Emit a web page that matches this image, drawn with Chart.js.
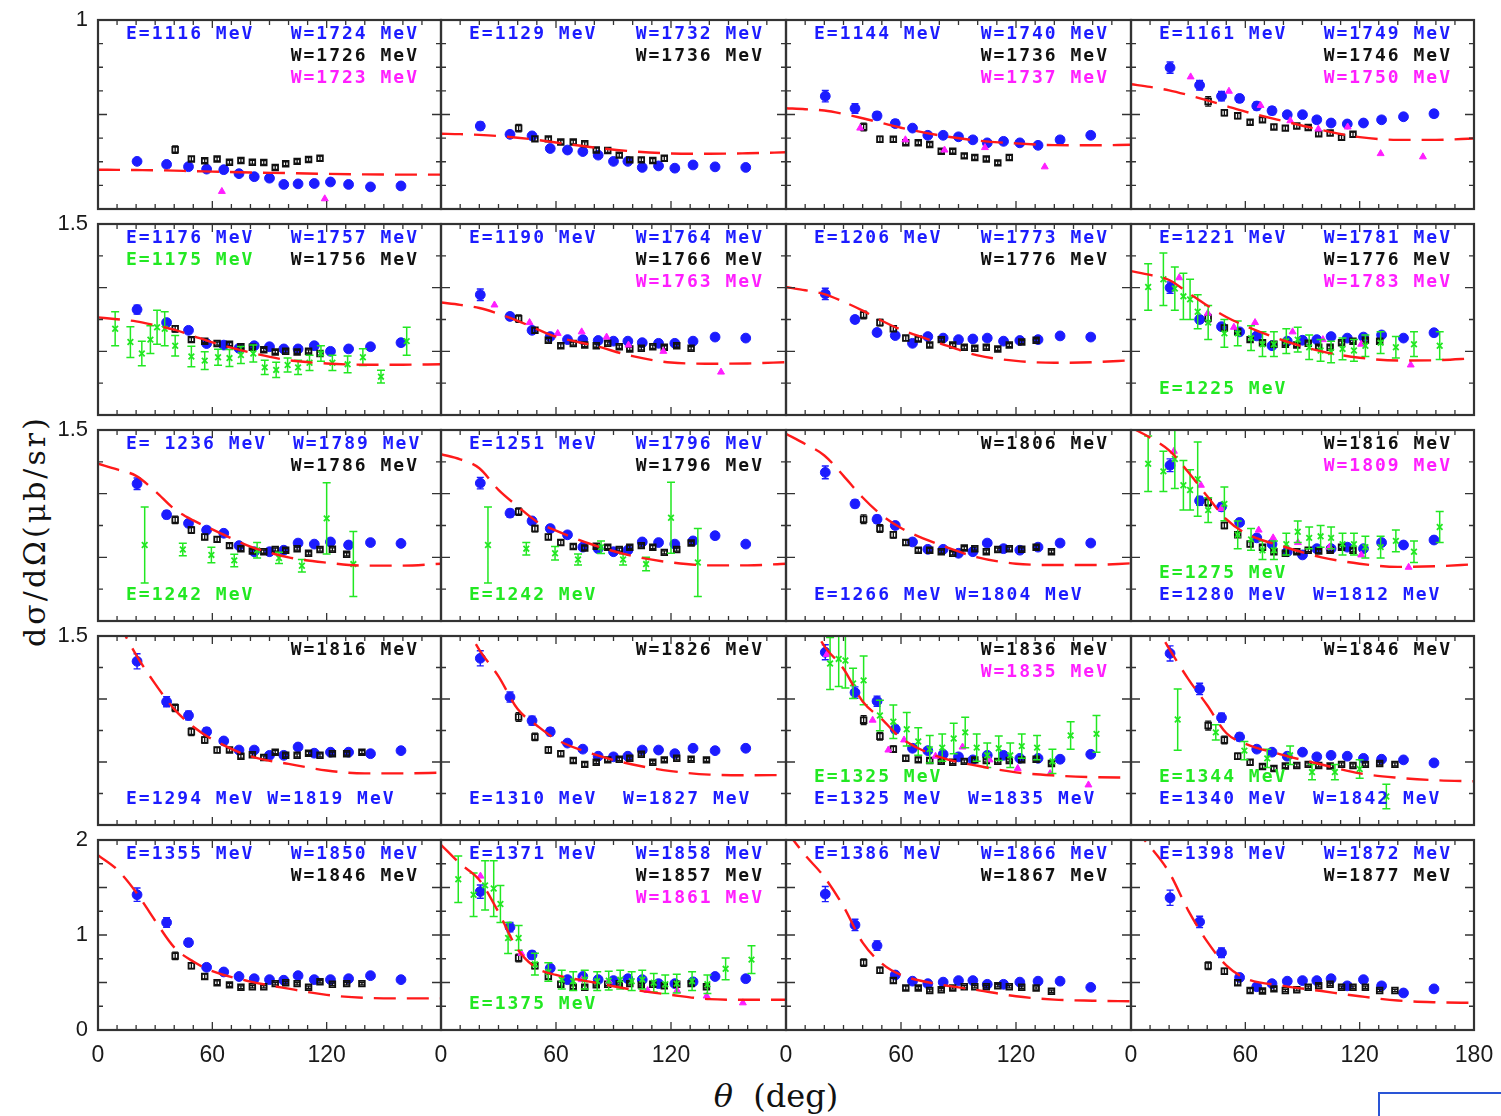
<!DOCTYPE html>
<html>
<head>
<meta charset="utf-8">
<script src="https://cdn.jsdelivr.net/npm/chart.js@4.4.1/dist/chart.umd.min.js"></script>
<style>
  body { margin: 0; background: #fff; width: 1501px; height: 1116px; position: relative; overflow: hidden; }
  canvas { position: absolute; }
  .ytitle { position: absolute; left: 34px; top: 531px; transform: translate(-50%, -50%) rotate(-90deg);
            font: 30px "DejaVu Serif"; letter-spacing: 3px; white-space: nowrap; color: #111; }
  .xtitle { position: absolute; left: 776px; top: 1096px; transform: translate(-50%, -50%);
            font: 32px "DejaVu Serif"; white-space: nowrap; color: #111; }
  .corner { position: absolute; left: 1378px; top: 1092px; width: 140px; height: 40px;
            border-top: 2px solid #2a55d6; border-left: 2px solid #2a55d6; background: #fff; }
</style>
</head>
<body>
<div class="ytitle">dσ/dΩ(μb/sr)</div>
<div class="xtitle"><i>θ</i>&nbsp;&nbsp;(deg)</div>
<div class="corner"></div>
<script>
// angle bins (deg)
const blueTheta = [20.5, 36, 47.5, 57, 66, 74, 82, 90, 97.5, 105, 113.5, 122, 131.5, 143, 159];
const blackTheta = [40.5, 49, 56, 62.5, 69, 75, 81, 87, 93, 98.5, 104.5, 110.5, 116.5, 123, 130.5, 138.5];
const greenThetaA = [9, 17, 23, 27.5, 31, 35, 40.5, 49, 56, 63, 69, 75, 81.5, 87.5, 93.5, 99.5, 105, 111, 117, 123, 131, 139, 148.5, 162];
const greenThetaB = [24.5, 44.5, 59.5, 71.5, 83.5, 95, 107, 120, 134];
const theoryTheta = [0, 10, 20, 30, 40, 50, 60, 80, 100, 120, 140, 160, 180];

// y range per row
const yMax = [1, 1.5, 1.5, 1.5, 2];
const yStep = [0.125, 0.25, 0.25, 0.25, 0.25];
const yLabels = [[1], [1.5], [1.5], [1.5], [0, 1, 2]];
const xLabels = [0, 60, 120];

// blue filled circles
const blue = [
  [.252,.236,.224,.211,.208,.187,.171,.163,.130,.133,.135,.143,.130,.117,.122],
  [.439,.395,.387,.320,.312,.304,.285,.252,.252,.220,.228,.216,.233,.223,.220],
  [.597,.532,.493,.452,.428,.390,.390,.382,.366,.350,.358,.350,.337,.366,.390],
  [.748,.655,.597,.585,.545,.520,.499,.499,.472,.455,.450,.455,.472,.488,.504],
  [.828,.726,.665,.561,.549,.524,.544,.536,.519,.519,.544,.500,.519,.536,.568],
  [.944,.774,.665,.616,.592,.592,.585,.580,.580,.568,.563,.563,.580,.612,.604],
  [.951,.750,.648,.624,.563,.616,.604,.592,.597,.604,.580,.585,.592,.621,.612],
  [1.0,.750,.694,.653,.621,.544,.580,.587,.592,.616,.604,.612,.629,.604,.646],
  [1.078,.835,.767,.714,.689,.592,.544,.544,.556,.612,.604,.621,.597,.616,.609],
  [1.083,.847,.786,.726,.677,.580,.568,.544,.556,.621,.616,.604,.629,.670,.604],
  [1.167,.920,.799,.750,.621,.563,.563,.532,.544,.612,.568,.556,.580,.612,.612],
  [1.223,.944,.896,.774,.653,.604,.544,.519,.568,.568,.580,.568,.616,.597,.636],
  [1.299,.978,.869,.740,.667,.595,.595,.553,.553,.619,.570,.578,.578,.566,.590],
  [1.323,1.015,.828,.740,.650,.602,.546,.541,.546,.595,.595,.566,.609,.590,.609],
  [1.371,1.051,.983,.760,.609,.590,.561,.541,.517,.553,.553,.529,.529,.522,.561],
  [1.362,1.080,.852,.699,.602,.578,.546,.578,.541,.553,.546,.529,.522,.517,.493],
  [1.424,1.132,.920,.660,.611,.563,.540,.530,.524,.572,.530,.530,.540,.572,.530],
  [1.457,1.083,.790,.650,.530,.563,.530,.520,.540,.530,.488,.488,.507,.563,.540],
  [1.431,1.106,.888,.579,.514,.488,.504,.520,.520,.481,.481,.504,.514,.514,.449],
  [1.392,1.138,.813,.553,.455,.488,.514,.520,.520,.540,.465,.530,.465,.390,.433]
];
const blueErr = [
  [.01,.01,.01,.01,.01,.01,.01,.01,.01,.01,.01,.01,.01,.01,.01],
  [.02,.015,.012,.012,.01,.01,.01,.01,.01,.01,.01,.01,.01,.01,.01],
  [.03,.025,.02,.02,.015,.015,.012,.012,.012,.012,.012,.012,.012,.015,.015],
  [.03,.025,.025,.02,.02,.02,.015,.015,.015,.015,.015,.015,.015,.015,.018],
  [.035,.02,.02,.015,.015,.015,.015,.015,.015,.015,.015,.015,.015,.015,.02],
  [.045,.025,.02,.02,.015,.015,.015,.015,.015,.015,.015,.015,.015,.015,.015],
  [.045,.025,.025,.02,.015,.015,.015,.015,.015,.015,.015,.015,.015,.015,.015],
  [.045,.03,.025,.02,.02,.015,.015,.015,.015,.015,.015,.015,.015,.015,.015],
  [.045,.03,.025,.025,.02,.015,.015,.015,.015,.015,.015,.015,.015,.015,.015],
  [.045,.03,.025,.025,.02,.015,.015,.015,.015,.015,.015,.015,.015,.015,.015],
  [.05,.03,.03,.025,.02,.015,.015,.015,.015,.015,.015,.015,.015,.015,.015],
  [.05,.035,.03,.025,.02,.02,.015,.015,.015,.015,.015,.015,.015,.015,.015],
  [.06,.04,.035,.03,.02,.015,.015,.015,.015,.015,.015,.015,.015,.015,.015],
  [.06,.04,.035,.03,.02,.02,.015,.015,.015,.015,.015,.015,.015,.015,.015],
  [.06,.045,.04,.03,.025,.02,.02,.015,.015,.015,.015,.015,.015,.015,.015],
  [.06,.045,.035,.03,.025,.02,.02,.02,.015,.015,.015,.015,.015,.015,.015],
  [.07,.05,.04,.03,.025,.02,.02,.02,.02,.02,.02,.02,.02,.02,.02],
  [.07,.05,.04,.03,.025,.02,.02,.02,.02,.02,.02,.02,.02,.02,.02],
  [.08,.06,.05,.035,.025,.02,.02,.02,.02,.02,.02,.02,.02,.02,.02],
  [.08,.06,.05,.035,.025,.02,.02,.02,.02,.02,.02,.02,.02,.02,.02]
];

// black open squares
const black = [
  [.314,.265,.255,.265,.247,.257,.247,.246,.220,.239,.252,.262,.268],
  [.428,.371,.371,.354,.354,.345,.312,.309,.285,.260,.260,.257,.268],
  [.434,.369,.369,.350,.350,.341,.306,.306,.281,.272,.265,.244,.272],
  [.569,.509,.493,.459,.472,.434,.428,.439,.431,.398,.402,.379,.395],
  [.677,.592,.580,.561,.556,.536,.532,.512,.495,.500,.495,.500,.483],
  [.757,.665,.587,.544,.561,.549,.544,.563,.536,.519,.524,.536,.532,.544,.524],
  [.786,.726,.677,.604,.597,.549,.592,.549,.532,.524,.532,.519,.549,.573,.587],
  [.762,.684,.653,.592,.568,.556,.556,.549,.563,.532,.532,.568,.580,.587,.580],
  [.794,.714,.660,.641,.592,.568,.549,.544,.561,.556,.568,.532,.561,.563,.524],
  [.859,.726,.660,.616,.585,.573,.587,.580,.561,.580,.592,.580,.539,.561,.612],
  [.799,.726,.677,.616,.556,.556,.544,.532,.573,.568,.544,.561,.568,.563,.580,.544],
  [.932,.750,.677,.604,.580,.544,.532,.544,.556,.549,.556,.580,.556],
  [.930,.740,.675,.595,.595,.546,.558,.536,.578,.553,.553,.570,.553,.566,.566,.578],
  [.857,.699,.595,.566,.512,.481,.498,.517,.522,.529,.561,.498,.517,.529,.522,.517],
  [.832,.704,.602,.529,.517,.512,.505,.498,.505,.517,.512,.505,.512,.517,.522,.488],
  [.789,.675,.546,.498,.464,.449,.468,.473,.481,.473,.468,.481,.473,.481,.488,.481],
  [.780,.676,.563,.498,.475,.449,.455,.455,.488,.498,.488,.449,.507,.481,.488,.488],
  [.758,.676,.563,.481,.449,.449,.475,.481,.488,.488,.475,.481,.465,.481,.488,.455],
  [.709,.628,.520,.442,.442,.416,.423,.442,.455,.455,.455,.465,.455,.449,.442,.407],
  [.676,.618,.498,.416,.410,.433,.416,.423,.449,.465,.481,.449,.449,.449,.416,.416]
];
const blackErr = [
  [.02,.012,.01,.01,.01,.01,.01,.01,.01,.01,.01,.01,.012],
  [.02,.012,.01,.01,.01,.01,.01,.01,.01,.01,.01,.01,.012],
  [.02,.015,.012,.01,.01,.01,.01,.01,.01,.01,.01,.01,.012],
  [.025,.015,.015,.012,.012,.012,.012,.012,.012,.012,.012,.012,.012],
  [.025,.015,.012,.012,.012,.012,.012,.012,.012,.012,.012,.012,.012],
  [.03,.02,.015,.015,.012,.012,.012,.012,.012,.012,.012,.012,.012,.012,.012],
  [.03,.025,.02,.02,.015,.015,.012,.012,.012,.012,.012,.012,.012,.012,.012],
  [.03,.02,.02,.015,.015,.012,.012,.012,.012,.012,.012,.012,.012,.012,.012],
  [.03,.025,.02,.02,.015,.015,.012,.012,.012,.012,.012,.012,.012,.012,.012],
  [.03,.025,.02,.02,.015,.015,.012,.012,.012,.012,.012,.012,.012,.012,.012],
  [.035,.03,.025,.02,.015,.015,.012,.012,.012,.012,.012,.012,.012,.012,.012,.012],
  [.03,.025,.02,.02,.015,.015,.012,.012,.012,.012,.012,.012,.012],
  [.03,.03,.025,.02,.015,.015,.012,.012,.012,.012,.012,.012,.012,.012,.012,.012],
  [.035,.03,.025,.02,.015,.015,.012,.012,.012,.012,.012,.012,.012,.012,.012,.012],
  [.035,.03,.025,.02,.015,.015,.012,.012,.012,.012,.012,.012,.012,.012,.012,.012],
  [.035,.03,.025,.02,.015,.015,.012,.012,.012,.012,.012,.012,.012,.012,.012,.012],
  [.04,.03,.025,.02,.015,.015,.012,.012,.012,.012,.012,.012,.012,.012,.012,.012],
  [.04,.03,.025,.02,.015,.015,.012,.012,.012,.012,.012,.012,.012,.012,.012,.012],
  [.04,.03,.025,.02,.015,.015,.012,.012,.012,.012,.012,.012,.012,.012,.012,.012],
  [.04,.03,.025,.02,.015,.015,.012,.012,.012,.012,.012,.012,.012,.012,.012,.012]
];

// magenta triangles (only some panels)
const magentaTheta = [
  [65, 119], null, [38.7, 62.3, 82.7, 103.8, 135], [31.3, 51.4, 68, 83.6, 98.3, 113.7, 131, 153.2],
  null, [27.9, 46.2, 60.9, 73.4, 86.4, 97.8, 116, 146.1], null, [25.3, 40.3, 54, 65.1, 84.8, 100.7, 120.8, 146.8],
  null, null, null, [22.5, 36.7, 47.4, 67, 74.6, 87.6, 104.2, 120.8, 145.7],
  null, null, [21.3, 45.2, 53.4, 61.6, 78, 92.1, 106.2, 120.9, 137.8, 157.8], null,
  null, [20.6, 41.9, 73.4, 87.6, 107.8, 123.2, 138.6, 157.5], null, null
];
const magenta = [
  [.093, .054], null, [.428, .366, .312, .325, .223], [.699, .623, .548, .467, .423, .434, .293, .276],
  null, [.864, .726, .641, .653, .612, .549, .500, .337], null, [1.078, .799, .689, .726, .653, .592, .556, .393],
  null, null, null, [1.333, 1.066, .883, .714, .653, .616, .580, .519, .422],
  null, null, [1.354, .832, .595, .675, .546, .619, .517, .449, .408, .318], null,
  null, [1.620, .807, .530, .514, .416, .416, .358, .286], null, null
];

// green crosses with error bars (24 values -> greenThetaA, 9 values -> greenThetaB)
const green = [
  null, null, null, null,
  [.677,.573,.483,.592,.689,.677,.544,.459,.427,.454,.447,.471,.483,.374,.354,.393,.374,.410,.483,.410,.398,.454,.301,.580],
  null, null,
  [1.005,1.066,.993,.932,.908,.811,.726,.641,.641,.604,.556,.556,.580,.592,.532,.507,.495,.519,.507,.544,.568,.532,.556,.544],
  [.597,.561,.519,.476,.556,.495,.434,.806,.447],
  [.597,.568,.532,.483,.580,.483,.447,.811,.459],
  null,
  [1.235,1.175,1.272,1.066,1.029,1.114,.871,.920,.677,.641,.556,.556,.604,.701,.653,.665,.653,.604,.604,.580,.580,.629,.544,.738],
  null, null,
  [null,null,1.282,1.318,1.306,1.124,1.148,.869,.820,.760,.663,.602,.614,.687,.735,.614,.553,.609,.553,.626,.614,.505,.711,.723],
  [.837,.735,.590,.529,.553,.420,.420,.444,.226],
  null,
  [1.587,1.424,1.522,1.489,1.327,.969,.969,.693,.611,.530,.514,.530,.514,.520,.530,.514,.530,.498,.481,.488,.514,.481,.644,.741],
  null, null
];
const greenErr = [
  null, null, null, null,
  [.133,.121,.097,.109,.133,.133,.08,.08,.07,.063,.067,.067,.067,.055,.06,.055,.055,.06,.06,.06,.066,.066,.05,.11],
  null, null,
  [.182,.206,.17,.182,.158,.133,.133,.109,.097,.097,.097,.097,.097,.097,.097,.085,.085,.085,.085,.085,.085,.085,.097,.109],
  [.299,.049,.061,.049,.061,.044,.049,.279,.255],
  [.299,.049,.053,.044,.049,.044,.053,.279,.267],
  null,
  [.218,.158,.231,.194,.158,.291,.097,.133,.109,.085,.073,.073,.085,.085,.085,.085,.085,.085,.085,.085,.085,.085,.085,.121],
  null, null,
  [null,null,.206,.218,.218,.121,.194,.121,.133,.133,.109,.109,.109,.121,.121,.109,.097,.097,.097,.097,.097,.097,.109,.146],
  [.243,.061,.073,.073,.073,.061,.061,.073,.097],
  null,
  [.244,.228,.26,.293,.195,.163,.13,.114,.098,.098,.098,.098,.098,.098,.098,.098,.098,.098,.098,.098,.098,.098,.114,.146],
  null, null
];

// red dashed model curve, at theoryTheta
const theory = [
  [.208,.207,.206,.205,.203,.200,.198,.193,.190,.186,.183,.182,.182],
  [.398,.396,.392,.386,.377,.366,.352,.325,.305,.294,.292,.295,.300],
  [.533,.528,.521,.503,.480,.455,.430,.390,.362,.347,.338,.337,.340],
  [.660,.646,.628,.603,.575,.545,.515,.465,.418,.380,.366,.366,.373],
  [.767,.752,.735,.705,.670,.620,.570,.490,.430,.405,.395,.395,.398],
  [.883,.865,.840,.795,.740,.675,.615,.545,.462,.412,.403,.405,.415],
  [1.005,.980,.950,.890,.820,.740,.670,.565,.468,.425,.410,.415,.430],
  [1.13,1.10,1.06,.960,.860,.770,.700,.585,.500,.450,.428,.430,.445],
  [1.235,1.19,1.14,1.02,.880,.790,.720,.585,.500,.458,.435,.435,.450],
  [1.31,1.27,1.20,1.03,.900,.780,.710,.595,.510,.460,.437,.437,.450],
  [1.47,1.39,1.30,1.14,.970,.830,.730,.600,.500,.450,.440,.440,.453],
  [1.52,1.44,1.34,1.17,.980,.800,.690,.585,.500,.450,.425,.430,.445],
  [1.85,1.62,1.35,1.12,.920,.780,.680,.545,.485,.433,.410,.410,.415],
  [1.88,1.66,1.39,1.18,.920,.790,.680,.560,.480,.428,.400,.395,.396],
  [1.90,1.68,1.42,1.24,.980,.840,.690,.540,.470,.418,.393,.380,.376],
  [1.90,1.66,1.40,1.16,.950,.730,.645,.555,.480,.410,.375,.355,.347],
  [1.84,1.69,1.45,1.15,.870,.720,.620,.510,.435,.370,.338,.333,.333],
  [1.95,1.75,1.58,1.24,.850,.650,.580,.500,.425,.370,.325,.318,.318],
  [2.10,1.84,1.61,1.30,.920,.700,.580,.480,.420,.355,.320,.308,.302],
  [2.15,1.93,1.66,1.26,.930,.680,.545,.465,.410,.355,.310,.292,.286]
];

// panel captions: [text, colour, place]
const captions = [
  [['E=1116 MeV','b','L0'],['W=1724 MeV','b','R0'],['W=1726 MeV','k','R1'],['W=1723 MeV','m','R2']],
  [['E=1129 MeV','b','L0'],['W=1732 MeV','b','R0'],['W=1736 MeV','k','R1']],
  [['E=1144 MeV','b','L0'],['W=1740 MeV','b','R0'],['W=1736 MeV','k','R1'],['W=1737 MeV','m','R2']],
  [['E=1161 MeV','b','L0'],['W=1749 MeV','b','R0'],['W=1746 MeV','k','R1'],['W=1750 MeV','m','R2']],
  [['E=1176 MeV','b','L0'],['W=1757 MeV','b','R0'],['E=1175 MeV','g','L1'],['W=1756 MeV','k','R1']],
  [['E=1190 MeV','b','L0'],['W=1764 MeV','b','R0'],['W=1766 MeV','k','R1'],['W=1763 MeV','m','R2']],
  [['E=1206 MeV','b','L0'],['W=1773 MeV','b','R0'],['W=1776 MeV','k','R1']],
  [['E=1221 MeV','b','L0'],['W=1781 MeV','b','R0'],['W=1776 MeV','k','R1'],['W=1783 MeV','m','R2'],['E=1225 MeV','g','B1']],
  [['E= 1236 MeV  W=1789 MeV','b','L0'],['W=1786 MeV','k','R1'],['E=1242 MeV','g','B1']],
  [['E=1251 MeV','b','L0'],['W=1796 MeV','b','R0'],['W=1796 MeV','k','R1'],['E=1242 MeV','g','B1']],
  [['W=1806 MeV','k','R0'],['E=1266 MeV W=1804 MeV','b','B1']],
  [['W=1816 MeV','k','R0'],['W=1809 MeV','m','R1'],['E=1275 MeV','g','B2'],['E=1280 MeV  W=1812 MeV','b','B1']],
  [['W=1816 MeV','k','R0'],['E=1294 MeV W=1819 MeV','b','B1']],
  [['W=1826 MeV','k','R0'],['E=1310 MeV  W=1827 MeV','b','B1']],
  [['W=1836 MeV','k','R0'],['W=1835 MeV','m','R1'],['E=1325 MeV','g','B2'],['E=1325 MeV  W=1835 MeV','b','B1']],
  [['W=1846 MeV','k','R0'],['E=1344 MeV','g','B2'],['E=1340 MeV  W=1842 MeV','b','B1']],
  [['E=1355 MeV','b','L0'],['W=1850 MeV','b','R0'],['W=1846 MeV','k','R1']],
  [['E=1371 MeV','b','L0'],['W=1858 MeV','b','R0'],['W=1857 MeV','k','R1'],['W=1861 MeV','m','R2'],['E=1375 MeV','g','B1']],
  [['E=1386 MeV','b','L0'],['W=1866 MeV','b','R0'],['W=1867 MeV','k','R1']],
  [['E=1398 MeV','b','L0'],['W=1872 MeV','b','R0'],['W=1877 MeV','k','R1']]
];

const colours = { b: '#1c1cff', k: '#111111', m: '#ff1eff', g: '#22e822', r: '#ff1a1a' };
const colX = [98, 441, 786, 1131, 1474];
const rowY = [20, 224, 430, 636, 840, 1045];

const near = (a, b) => Math.abs(a - b) < 1e-6;

// vertical error bars for datasets whose points carry e
const errorBars = {
  id: 'errorBars',
  afterDatasetDraw(chart, args) {
    const ds = chart.data.datasets[args.index];
    if (!ds.bars) return;
    const { ctx, chartArea: a, scales: { x, y } } = chart;
    ctx.save();
    ctx.beginPath();
    ctx.rect(a.left, a.top, a.width, a.height);
    ctx.clip();
    ctx.strokeStyle = ds.borderColor;
    ctx.lineWidth = ds.bars.width;
    const cap = ds.bars.cap;
    ctx.beginPath();
    ds.data.forEach(d => {
      if (!d.e) return;
      const px = x.getPixelForValue(d.x);
      const lo = y.getPixelForValue(d.y - d.e), hi = y.getPixelForValue(d.y + d.e);
      ctx.moveTo(px, lo); ctx.lineTo(px, hi);
      ctx.moveTo(px - cap, lo); ctx.lineTo(px + cap, lo);
      ctx.moveTo(px - cap, hi); ctx.lineTo(px + cap, hi);
    });
    ctx.stroke();
    ctx.restore();
  }
};

// box with inward ticks on all four sides
const frame = {
  id: 'frame',
  afterDraw(chart) {
    const { ctx, chartArea: a, scales: { x, y } } = chart;
    ctx.save();
    ctx.strokeStyle = '#333';
    ctx.lineWidth = 1.3;
    ctx.beginPath();
    x.ticks.forEach(t => {
      const px = x.getPixelForValue(t.value), len = t.value % 60 === 0 ? 8 : 5;
      ctx.moveTo(px, a.bottom); ctx.lineTo(px, a.bottom - len);
      ctx.moveTo(px, a.top); ctx.lineTo(px, a.top + len);
    });
    y.ticks.forEach(t => {
      const py = y.getPixelForValue(t.value), len = near(t.value * 2, Math.round(t.value * 2)) ? 9 : 5;
      ctx.moveTo(a.left, py); ctx.lineTo(a.left + len, py);
      ctx.moveTo(a.right, py); ctx.lineTo(a.right - len, py);
    });
    ctx.stroke();
    ctx.lineWidth = 2.2;
    ctx.strokeRect(a.left, a.top, a.width, a.height);
    ctx.restore();
  }
};

// coloured captions inside each panel
const panelText = {
  id: 'panelText',
  afterDatasetsDraw(chart, args, opts) {
    const { ctx, chartArea: a } = chart;
    ctx.save();
    ctx.font = 'bold 18px "DejaVu Sans Mono"';
    ctx.letterSpacing = '2px';
    ctx.textBaseline = 'middle';
    opts.items.forEach(([text, col, place]) => {
      ctx.fillStyle = colours[col];
      const kind = place[0], n = +place[1];
      let x, y;
      if (kind === 'B') {
        ctx.textAlign = 'left'; x = a.left + 28; y = a.bottom - 26 - 22 * (n - 1);
      } else if (kind === 'L') {
        ctx.textAlign = 'left'; x = a.left + 28; y = a.top + 14 + 22 * n;
      } else {
        ctx.textAlign = 'right'; x = a.right - 22; y = a.top + 14 + 22 * n;
      }
      ctx.fillText(text, x, y);
    });
    ctx.restore();
  }
};

const zeroPad = s => { s.paddingTop = s.paddingBottom = s.paddingLeft = s.paddingRight = 0; };

for (let p = 0; p < 20; p++) {
  const r = Math.floor(p / 4), c = p % 4;
  const w = colX[c + 1] - colX[c], h = rowY[r + 1] - rowY[r];
  const cv = document.createElement('canvas');
  cv.width = w + 95;
  cv.height = h + 50;
  cv.style.left = (colX[c] - 70) + 'px';
  cv.style.top = (rowY[r] - 15) + 'px';
  document.body.appendChild(cv);

  const sets = [];
  sets.push({
    data: theoryTheta.map((t, i) => ({ x: t, y: theory[p][i] })),
    showLine: true, pointRadius: 0, borderColor: colours.r, borderWidth: 2.4,
    borderDash: [22, 11], cubicInterpolationMode: 'monotone', order: 0
  });
  if (green[p]) {
    const th = green[p].length === 24 ? greenThetaA : greenThetaB;
    sets.push({
      data: th.map((t, i) => ({ x: t, y: green[p][i], e: greenErr[p][i] })).filter(d => d.y != null),
      pointStyle: 'crossRot', pointRadius: 4, borderWidth: 1.8,
      borderColor: colours.g, backgroundColor: colours.g, bars: { width: 1.5, cap: 4 }, order: 1
    });
  }
  if (magenta[p]) {
    sets.push({
      data: magentaTheta[p].map((t, i) => ({ x: t, y: magenta[p][i] })),
      pointStyle: 'triangle', pointRadius: 4, borderWidth: 1,
      borderColor: colours.m, backgroundColor: colours.m, order: 2
    });
  }
  sets.push({
    data: black[p].map((v, i) => ({ x: blackTheta[i], y: v, e: blackErr[p][i] })),
    pointStyle: 'rect', pointRadius: 4, borderWidth: 1.8,
    borderColor: colours.k, backgroundColor: 'rgba(255,255,255,0)', bars: { width: 1.3, cap: 3 }, order: 3
  });
  sets.push({
    data: blue[p].map((v, i) => ({ x: blueTheta[i], y: v, e: blueErr[p][i] })),
    pointStyle: 'circle', pointRadius: 4.9, borderWidth: 1,
    borderColor: colours.b, backgroundColor: colours.b, bars: { width: 1.4, cap: 3.5 }, order: 4
  });

  new Chart(cv, {
    type: 'scatter',
    data: { datasets: sets },
    options: {
      responsive: false,
      animation: false,
      devicePixelRatio: 1,
      events: [],
      layout: { padding: { top: 15, right: 25, left: 0, bottom: 0 } },
      plugins: {
        legend: { display: false },
        tooltip: { enabled: false },
        panelText: { items: captions[p] }
      },
      scales: {
        x: {
          type: 'linear', min: 0, max: 180,
          grid: { display: false, drawTicks: false },
          border: { display: false },
          ticks: {
            stepSize: 10, autoSkip: false, maxRotation: 0, padding: 12,
            color: '#1a1a1a', font: { family: 'Liberation Sans', size: 23 },
            callback: v => (r === 4 && (xLabels.includes(v) || (c === 3 && v === 180))) ? String(v) : ''
          },
          afterFit: s => { s.height = 50; zeroPad(s); }
        },
        y: {
          type: 'linear', min: 0, max: yMax[r],
          grid: { display: false, drawTicks: false },
          border: { display: false },
          ticks: {
            stepSize: yStep[r], autoSkip: false, padding: 10,
            color: '#1a1a1a', font: { family: 'Liberation Sans', size: 22 },
            callback: v => (c === 0 && yLabels[r].some(l => near(l, v))) ? String(v) : ''
          },
          afterFit: s => { s.width = 70; zeroPad(s); }
        }
      }
    },
    plugins: [errorBars, frame, panelText]
  });
}
</script>
</body>
</html>
